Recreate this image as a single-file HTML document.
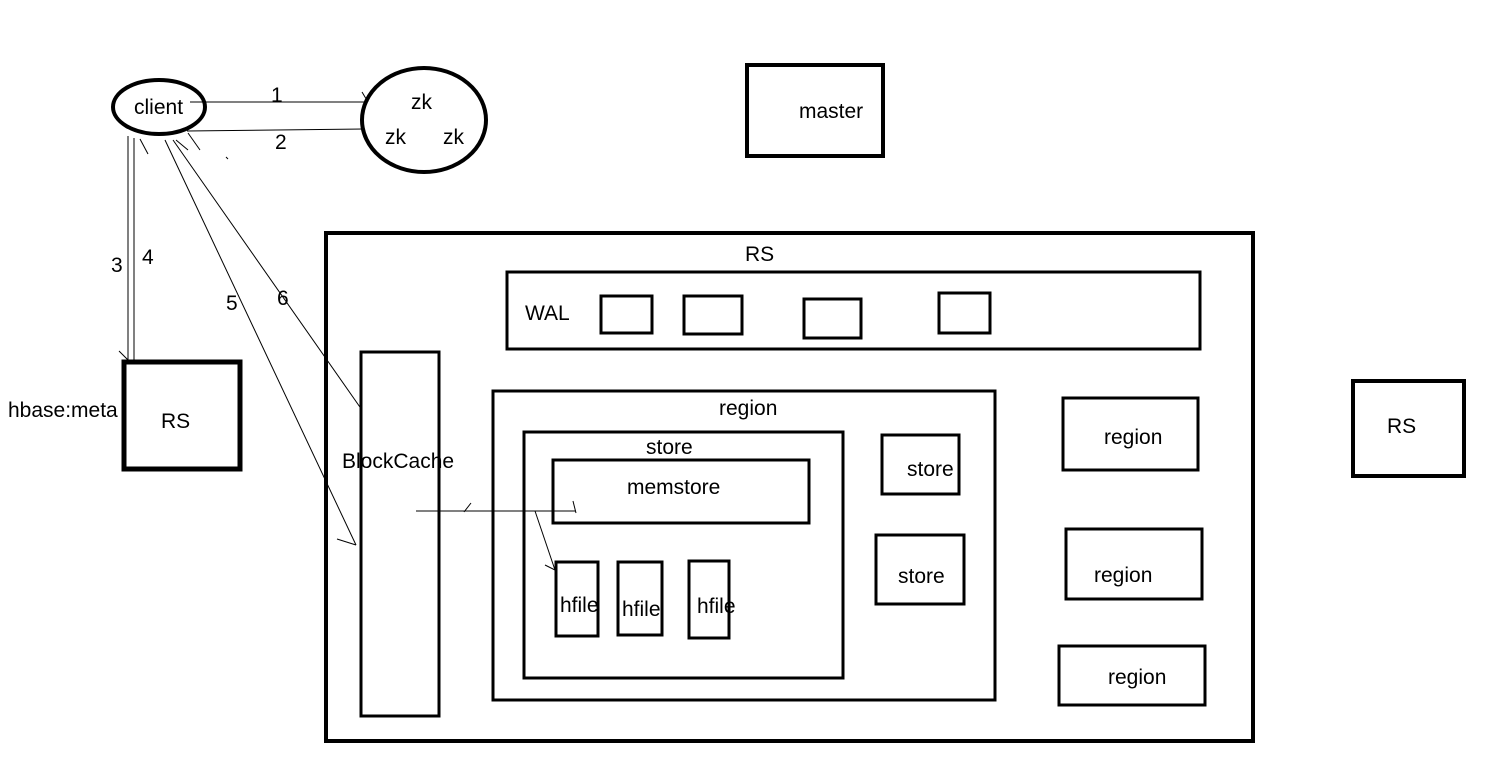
<!DOCTYPE html>
<html><head><style>
body{margin:0;background:#fff;}
svg{display:block;}
text{font-family:"Liberation Sans",sans-serif;font-size:21px;fill:#000;}
</style></head><body>
<svg width="1497" height="766" viewBox="0 0 1497 766" xmlns="http://www.w3.org/2000/svg">
<g fill="none" stroke="#000">
<ellipse cx="159" cy="107" rx="46" ry="27" stroke-width="4"/>
<ellipse cx="424" cy="120" rx="62" ry="52" stroke-width="4"/>
<rect x="747" y="65" width="136" height="91" stroke-width="4"/>
<rect x="326" y="233" width="927" height="508" stroke-width="4"/>
<rect x="507" y="272" width="693" height="77" stroke-width="3"/>
<rect x="601" y="296" width="51" height="37" stroke-width="3"/>
<rect x="684" y="296" width="58" height="38" stroke-width="3"/>
<rect x="804" y="299" width="57" height="39" stroke-width="3"/>
<rect x="939" y="293" width="51" height="40" stroke-width="3"/>
<rect x="361" y="352" width="78" height="364" stroke-width="3"/>
<rect x="493" y="391" width="502" height="309" stroke-width="3"/>
<rect x="524" y="432" width="319" height="246" stroke-width="3"/>
<rect x="553" y="460" width="256" height="63" stroke-width="3"/>
<rect x="556" y="562" width="42" height="74" stroke-width="3"/>
<rect x="618" y="562" width="44" height="73" stroke-width="3"/>
<rect x="689" y="561" width="40" height="77" stroke-width="3"/>
<rect x="882" y="435" width="77" height="59" stroke-width="3"/>
<rect x="876" y="535" width="88" height="69" stroke-width="3"/>
<rect x="1063" y="398" width="135" height="72" stroke-width="3"/>
<rect x="1066" y="529" width="136" height="70" stroke-width="3"/>
<rect x="1059" y="646" width="146" height="59" stroke-width="3"/>
<rect x="124" y="362" width="116" height="107" stroke-width="5"/>
<rect x="1353" y="381" width="111" height="95" stroke-width="4"/>
<g stroke-width="1">
<line x1="190" y1="102" x2="366" y2="102"/>
<line x1="362" y1="92" x2="368" y2="102"/>
<line x1="187" y1="131" x2="364" y2="129"/>
<line x1="188" y1="133" x2="200" y2="150"/>
<line x1="140" y1="139" x2="148" y2="154"/>
<line x1="226" y1="157" x2="228" y2="159"/>
<line x1="128" y1="136" x2="128" y2="360"/>
<line x1="134" y1="138" x2="134" y2="362"/>
<line x1="119" y1="351" x2="128" y2="360"/>
<line x1="165" y1="140" x2="356" y2="545"/>
<line x1="337" y1="539" x2="356" y2="545"/>
<line x1="173" y1="140" x2="362" y2="410"/>
<line x1="176" y1="140" x2="188" y2="150"/>
<line x1="416" y1="511" x2="576" y2="511"/>
<line x1="471" y1="503" x2="464" y2="512"/>
<line x1="573" y1="501" x2="576" y2="513"/>
<line x1="535" y1="511" x2="555" y2="570"/>
<line x1="545" y1="565" x2="555" y2="570"/>
</g>
</g>
<text x="134" y="114">client</text>
<text x="411" y="109">zk</text>
<text x="385" y="144">zk</text>
<text x="443" y="144">zk</text>
<text x="799" y="118">master</text>
<text x="271" y="102">1</text>
<text x="275" y="149">2</text>
<text x="111" y="272">3</text>
<text x="142" y="264">4</text>
<text x="226" y="310">5</text>
<text x="277" y="305">6</text>
<text x="8" y="417">hbase:meta</text>
<text x="161" y="428">RS</text>
<text x="745" y="261">RS</text>
<text x="525" y="320">WAL</text>
<text x="342" y="468">BlockCache</text>
<text x="719" y="415">region</text>
<text x="646" y="454">store</text>
<text x="627" y="494">memstore</text>
<text x="560" y="612">hfile</text>
<text x="622" y="616">hfile</text>
<text x="697" y="613">hfile</text>
<text x="907" y="476">store</text>
<text x="898" y="583">store</text>
<text x="1104" y="444">region</text>
<text x="1094" y="582">region</text>
<text x="1108" y="684">region</text>
<text x="1387" y="433">RS</text>
</svg>
</body></html>
